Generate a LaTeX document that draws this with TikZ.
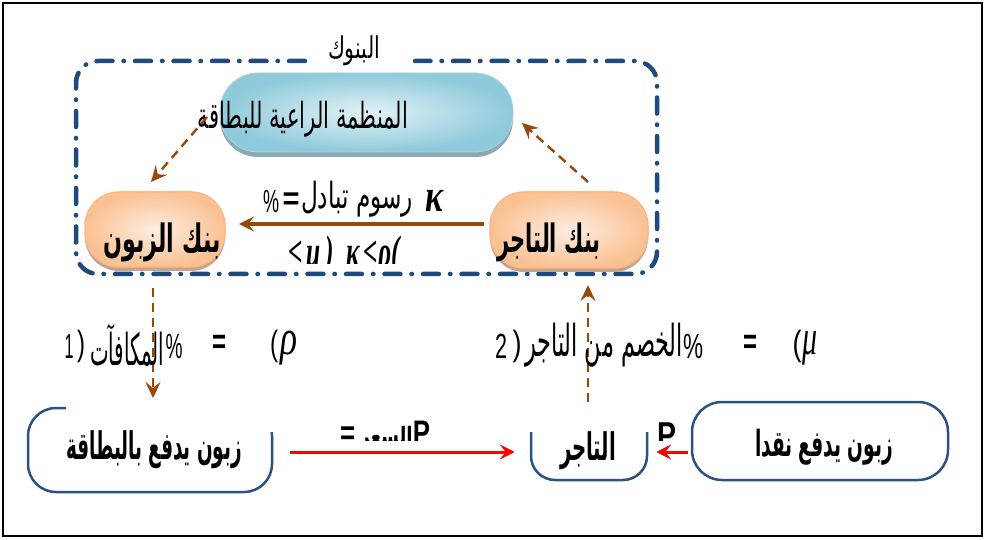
\documentclass[tikz,border=0pt]{standalone}
\usepackage{fontspec}
\usepackage{graphicx}
\setmainfont{Liberation Sans}
\newfontfamily\arabicfont[Script=Arabic]{DejaVu Sans}
\newfontfamily\grk{Liberation Serif}
\TeXXeTstate=1
\usetikzlibrary{arrows.meta,shadows}
\newcommand\AR[1]{{\arabicfont\beginR #1\endR}}
\newcommand\fw[2]{\resizebox{#1pt}{\height}{#2}}
\newcommand\fs[1]{\fontsize{#1}{#1}\selectfont}
\definecolor{bankblue}{HTML}{1F4A7C}
\definecolor{boxblue}{HTML}{2B5283}
\definecolor{brn}{HTML}{984807}
\definecolor{orglight}{HTML}{E2F2F6}
\definecolor{orgdark}{HTML}{8FCADB}
\definecolor{orgshadow}{HTML}{8AA9B2}
\definecolor{orlight}{HTML}{FDEDE2}
\definecolor{ordark}{HTML}{FAC193}
\definecolor{orborder}{HTML}{F8BA8A}
\definecolor{orshadow}{HTML}{C9A28A}
\begin{document}
\begin{tikzpicture}[x=1pt,y=-1pt,
  frame/.style={draw=black,line width=2.5pt},
  bankline/.style={draw=bankblue,line width=4.5pt,line cap=round,
    dash pattern=on 16pt off 11pt on 0.5pt off 11pt,rounded corners=22pt},
  orgpill/.style={rectangle,rounded corners=38pt,inner color=orglight,outer color=orgdark,
    draw=orgdark!80,line width=0.8pt,
    drop shadow={shadow xshift=0pt,shadow yshift=-5pt,fill=orgshadow,opacity=1}},
  orpill/.style={rectangle,rounded corners=34pt,inner color=orlight,outer color=ordark,
    draw=orborder,line width=1.5pt,
    drop shadow={shadow xshift=0pt,shadow yshift=-4pt,fill=orshadow,opacity=1}},
  flowbox/.style={rectangle,draw=boxblue,line width=2.5pt,fill=white},
  txt/.style={inner sep=0pt,text=black},
  brarrow/.style={draw=brn,line width=3.5pt,-{Stealth[length=15pt,width=15pt,inset=6pt]}},
  dasharrow/.style={draw=brn,line width=2.4pt,dash pattern=on 9pt off 6pt,
    -{Stealth[length=16pt,width=15pt,inset=6pt]}},
  redarrow/.style={draw=red,line width=3pt,-{Stealth[length=15pt,width=15pt,inset=6pt]}},
  cover/.style={fill=white,draw=none}
]
\useasboundingbox (0,0) rectangle (986,540);
\fill[white] (0,0) rectangle (986,540);
% outer frame
\draw[frame] (3,3) rectangle (982,536);

% bank container
\draw[bankline] (305,61) -| (76,274) -| (657,61) -- (415,61);
\node[txt] (banks) at (354,51) {\fw{52}{\fs{30}\AR{البنوك}}};

% card organisation
\node[orgpill,minimum width=293pt,minimum height=79pt] (org) at (366.5,112.5) {};
\node[txt] (orgtxt) at (303,119) {\fw{210}{\fs{36}\AR{المنظمة الراعية للبطاقة}}};

% banks
\node[orpill,minimum width=140pt,minimum height=75pt] (bz) at (155,229.5) {};
\node[txt] (bztxt) at (162,242) {\fw{117}{\fs{39}\bfseries\AR{بنك الزبون}}};
\node[orpill,minimum width=158pt,minimum height=76pt] (bt) at (569,230) {};
\node[txt] (bttxt) at (549,242) {\fw{103}{\fs{39}\bfseries\AR{بنك التاجر}}};

% interchange arrow and its labels
\coordinate (ia) at (484,224);
\coordinate (ib) at (239,224);
\draw[brarrow] (ia) -- (ib);
\node[txt] (pc1) at (271,201) {\fw{16}{\fs{32}\%}};
\node[txt] (eq1) at (291,201) {\fw{17}{\fs{32}\bfseries =}};
\node[txt] (fee) at (357,199) {\fw{112}{\fs{36}\AR{رسوم تبادل}}};
\node[txt] (k1) at (434,201) {\fw{18}{\fs{46}\grk\bfseries\itshape κ}};
\begin{scope}
\clip (250,230) rectangle (480,264);
\node[txt] (ineq) at (344,256) {\fw{112}{\fs{44}\grk\bfseries\itshape <\,μ\,)\ \ κ\,<ρ(}};
\end{scope}

% dashed arrows
\coordinate (d1a) at (207,117);
\coordinate (d1b) at (151,182);
\draw[dasharrow] (d1a) -- (d1b);
\coordinate (d2a) at (588,182);
\coordinate (d2b) at (522,123);
\draw[dasharrow] (d2a) -- (d2b);

% bottom boxes
\node[flowbox,rounded corners=28pt,minimum width=244pt,minimum height=84pt] (zc) at (150,450) {};
\node[flowbox,rounded corners=24pt,minimum width=116pt,minimum height=74pt] (tj) at (589,443) {};
\node[flowbox,rounded corners=30pt,minimum width=256pt,minimum height=78pt] (zn) at (820,441) {};
\fill[cover] (66,396) rectangle (285,432);
\fill[cover] (524,396) rectangle (654,432);

\coordinate (d3a) at (153,288);
\coordinate (d3b) at (153,398);
\draw[dasharrow] (d3a) -- (d3b);
\coordinate (d4a) at (588,402);
\coordinate (d4b) at (588,285);
\draw[dasharrow] (d4a) -- (d4b);

% row labels
\node[txt] (n1) at (69,346) {\fw{9}{\fs{35}1}};
\node[txt] (p1) at (81,346) {\fw{8}{\fs{35})}};
\node[txt] (rew) at (127,345) {\fw{74}{\fs{44}\AR{المكافآت}}};
\node[txt] (pc2) at (174,346) {\fw{17}{\fs{35}\%}};
\node[txt] (eq2) at (219,344) {\fw{14}{\fs{35}\bfseries =}};
\node[txt] (p2) at (274,346) {\fw{8}{\fs{35}(}};
\node[txt] (rho) at (289,348) {\fw{17}{\fs{50}\grk\itshape ρ}};

\node[txt] (n2) at (501,346) {\fw{12}{\fs{35}2}};
\node[txt] (p3) at (517,346) {\fw{9}{\fs{35})}};
\node[txt] (disc) at (604,345) {\fw{158}{\fs{44}\AR{الخصم من التاجر}}};
\node[txt] (pc3) at (693,346) {\fw{20}{\fs{35}\%}};
\node[txt] (eq3) at (750,344) {\fw{14}{\fs{35}\bfseries =}};
\node[txt] (p4) at (797,346) {\fw{9}{\fs{35}(}};
\node[txt] (mu) at (810,348) {\fw{15}{\fs{50}\grk\itshape μ}};

% bottom texts
\node[txt] (zctxt) at (154,450) {\fw{176}{\fs{38}\bfseries\AR{زبون يدفع بالبطاقة}}};
\node[txt] (tjtxt) at (588,451) {\fw{56}{\fs{38}\bfseries\AR{التاجر}}};
\node[txt] (zntxt) at (824,447) {\fw{138}{\fs{36}\bfseries\AR{زبون يدفع نقدا}}};

% red arrows
\draw[redarrow] ([xshift=17pt,yshift=-2pt]zc.east) -- ([xshift=-15pt,yshift=-9pt]tj.west);
\draw[redarrow] ([xshift=-3pt,yshift=-11pt]zn.west) -- ([xshift=8pt,yshift=-9pt]tj.east);

% clipped price labels
\begin{scope}
\clip (300,400) rectangle (700,440);
\node[txt] (pr) at (385,436) {\fw{90}{\fs{34}\bfseries =\,\AR{\fs{24}السعر}P}};
\node[txt] (pP) at (667,435) {\fw{19}{\fs{36}\bfseries P}};
\end{scope}
\end{tikzpicture}
\end{document}
